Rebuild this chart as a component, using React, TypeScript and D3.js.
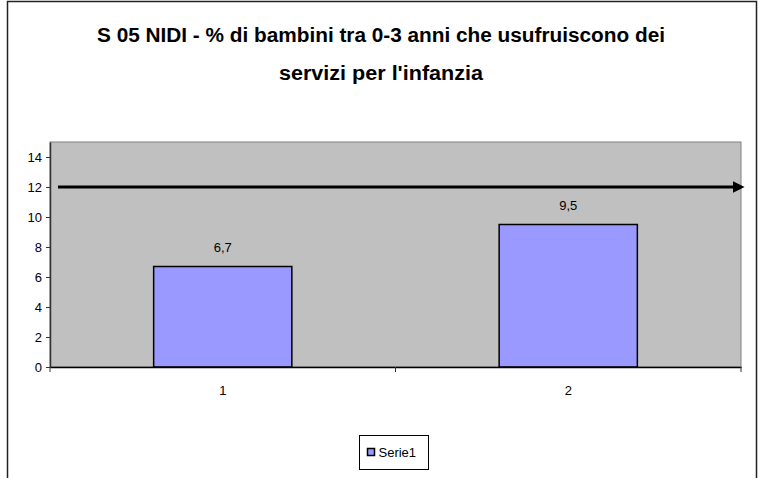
import React, { useRef, useEffect } from "react";
import * as d3 from "d3";

const categories = ["1", "2"];
const values = [6.7, 9.5];
const yTicks = [0, 2, 4, 6, 8, 10, 12, 14];
const targetValue = 12;
const seriesName = "Serie1";
const titleLines = [
  "S 05 NIDI - % di bambini tra 0-3 anni che usufruiscono dei",
  "servizi per l'infanzia",
];
const titleWidths = [568, 204];

const width = 758;
const height = 478;

const App = () => {
  const svgRef = useRef<SVGSVGElement>(null);

  useEffect(() => {
    const svg = d3.select(svgRef.current);
    svg.selectAll("*").remove();

    const font = "'Liberation Sans', Arial, sans-serif";
    const plot = { left: 50, right: 741, top: 142, bottom: 367 };

    // outer frame
    svg
      .append("rect")
      .attr("x", 7.5)
      .attr("y", 1.5)
      .attr("width", 749)
      .attr("height", 500)
      .attr("fill", "#fff")
      .attr("stroke", "#222")
      .attr("stroke-width", 1.5);

    titleLines.forEach((t, i) => {
      svg
        .append("text")
        .attr("x", 381)
        .attr("y", 42 + i * 38)
        .attr("text-anchor", "middle")
        .attr("font-family", font)
        .attr("font-weight", "bold")
        .attr("font-size", 20)
        .attr("textLength", titleWidths[i])
        .attr("lengthAdjust", "spacingAndGlyphs")
        .attr("fill", "#000")
        .text(t);
    });

    const x = d3
      .scaleBand()
      .domain(categories)
      .range([plot.left, plot.right])
      .paddingInner(0)
      .paddingOuter(0);
    const y = d3.scaleLinear().domain([0, 15]).range([plot.bottom, plot.top]);

    // plot background
    svg
      .append("rect")
      .attr("x", plot.left)
      .attr("y", plot.top)
      .attr("width", plot.right - plot.left)
      .attr("height", plot.bottom - plot.top)
      .attr("fill", "#c0c0c0")
      .attr("stroke", "#808080")
      .attr("stroke-width", 1);

    // bars
    const barW = x.bandwidth() * 0.4;
    svg
      .selectAll(".bar")
      .data(values)
      .enter()
      .append("rect")
      .attr("x", (d, i) => x(categories[i])! + (x.bandwidth() - barW) / 2)
      .attr("y", (d) => y(d))
      .attr("width", barW)
      .attr("height", (d) => y(0) - y(d))
      .attr("fill", "#9999ff")
      .attr("stroke", "#000")
      .attr("stroke-width", 1.5);

    // data labels
    svg
      .selectAll(".lbl")
      .data(values)
      .enter()
      .append("text")
      .attr("x", (d, i) => x(categories[i])! + x.bandwidth() / 2)
      .attr("y", (d) => y(d) - 15)
      .attr("text-anchor", "middle")
      .attr("font-family", font)
      .attr("font-size", 13)
      .text((d) => d.toString().replace(".", ","));

    // y axis
    const yAxis = svg
      .append("g")
      .attr("transform", `translate(${plot.left},0)`)
      .call(
        d3
          .axisLeft(y)
          .tickValues(yTicks)
          .tickSize(4)
          .tickPadding(4)
          .tickSizeOuter(0)
      );
    yAxis.select(".domain").attr("stroke", "#333").attr("stroke-width", 1.5);
    yAxis.selectAll("line").attr("stroke", "#333");
    yAxis
      .selectAll("text")
      .attr("font-family", font)
      .attr("font-size", 13)
      .attr("fill", "#000");

    // x axis
    const xAxis = svg
      .append("g")
      .attr("transform", `translate(0,${plot.bottom})`)
      .call(d3.axisBottom(x).tickSize(0).tickPadding(19));
    xAxis.select(".domain").attr("stroke", "#000").attr("stroke-width", 1.5);
    xAxis
      .selectAll("text")
      .attr("font-family", font)
      .attr("font-size", 13)
      .attr("fill", "#000");
    const xTickPos = [plot.left, (plot.left + plot.right) / 2, plot.right];
    xAxis
      .selectAll(".sep")
      .data(xTickPos)
      .enter()
      .append("line")
      .attr("x1", (d) => d)
      .attr("x2", (d) => d)
      .attr("y1", 0)
      .attr("y2", 5)
      .attr("stroke", "#333");

    // target arrow
    svg
      .append("defs")
      .append("marker")
      .attr("id", "arrow")
      .attr("viewBox", "0 0 10 10")
      .attr("refX", 2)
      .attr("refY", 5)
      .attr("markerWidth", 4)
      .attr("markerHeight", 4)
      .attr("orient", "auto")
      .append("path")
      .attr("d", "M0,0 L10,5 L0,10 Z")
      .attr("fill", "#000");
    svg
      .append("line")
      .attr("x1", 58)
      .attr("x2", 735)
      .attr("y1", y(targetValue))
      .attr("y2", y(targetValue))
      .attr("stroke", "#000")
      .attr("stroke-width", 3)
      .attr("marker-end", "url(#arrow)");

    // legend
    const lg = svg.append("g").attr("transform", "translate(359.5,435.5)");
    lg.append("rect")
      .attr("width", 69)
      .attr("height", 34)
      .attr("fill", "#fff")
      .attr("stroke", "#000");
    lg.append("rect")
      .attr("x", 8)
      .attr("y", 13)
      .attr("width", 7)
      .attr("height", 7)
      .attr("fill", "#9999ff")
      .attr("stroke", "#000")
      .attr("stroke-width", 1.5);
    lg.append("text")
      .attr("x", 19)
      .attr("y", 21.5)
      .attr("font-family", font)
      .attr("font-size", 13)
      .text(seriesName);
  }, []);

  return (
    <svg
      ref={svgRef}
      width={width}
      height={height}
      style={{ position: "absolute", left: 0, top: 0 }}
    ></svg>
  );
};

export default App;
